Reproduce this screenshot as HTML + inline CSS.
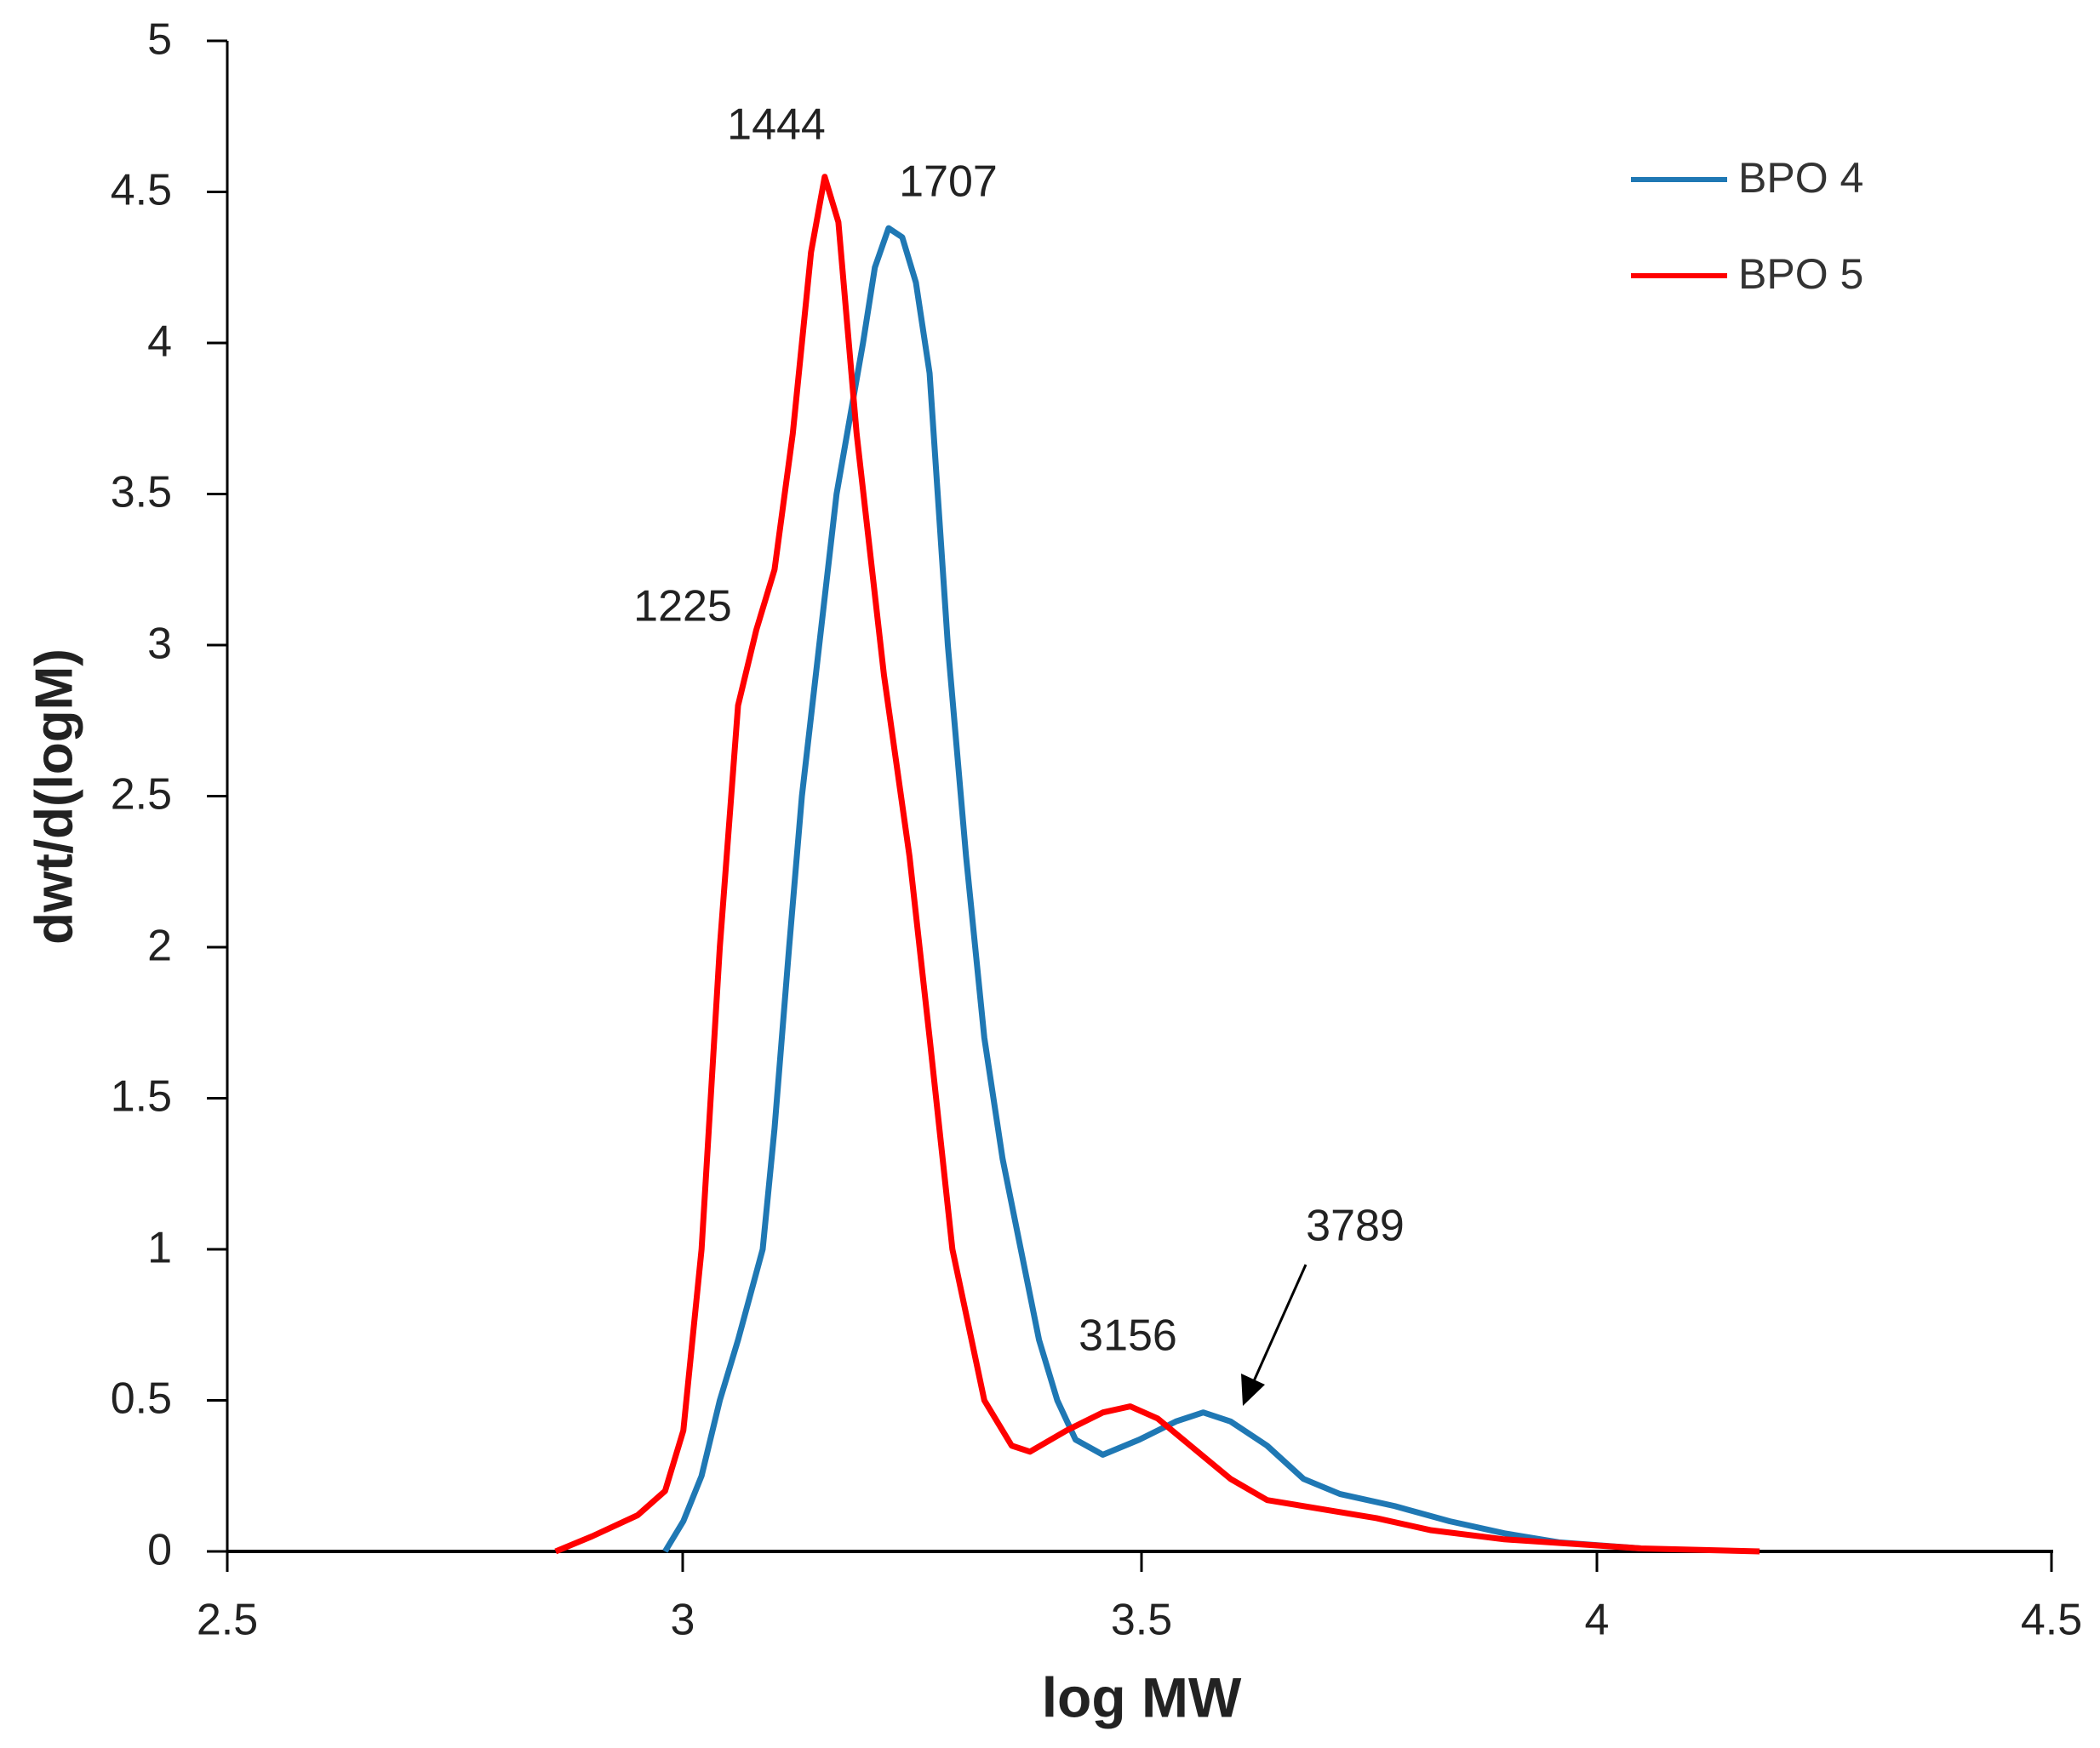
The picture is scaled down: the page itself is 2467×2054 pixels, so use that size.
<!DOCTYPE html>
<html><head><style>body{margin:0;background:#fff}svg{display:block}</style></head><body>
<svg width="2467" height="2054" viewBox="0 0 2467 2054" xmlns="http://www.w3.org/2000/svg" font-family="Liberation Sans, sans-serif">
<rect width="2467" height="2054" fill="#fff"/>
<g stroke="#000" stroke-width="3">
<line x1="267" y1="48" x2="267" y2="1823"/>
<line x1="267" y1="1823" x2="2412" y2="1823" stroke-width="4"/>
<line x1="243" y1="48" x2="267" y2="48"/><line x1="243" y1="225.5" x2="267" y2="225.5"/>
<line x1="243" y1="403" x2="267" y2="403"/><line x1="243" y1="580.5" x2="267" y2="580.5"/>
<line x1="243" y1="758" x2="267" y2="758"/><line x1="243" y1="935.5" x2="267" y2="935.5"/>
<line x1="243" y1="1113" x2="267" y2="1113"/><line x1="243" y1="1290.5" x2="267" y2="1290.5"/>
<line x1="243" y1="1468" x2="267" y2="1468"/><line x1="243" y1="1645.5" x2="267" y2="1645.5"/>
<line x1="243" y1="1823" x2="267" y2="1823"/>
<line x1="267" y1="1823" x2="267" y2="1847"/><line x1="802" y1="1823" x2="802" y2="1847"/>
<line x1="1341" y1="1823" x2="1341" y2="1847"/><line x1="1876" y1="1823" x2="1876" y2="1847"/>
<line x1="2410" y1="1823" x2="2410" y2="1847"/>
</g>
<g font-size="52" fill="#222" text-anchor="end" dominant-baseline="middle">
<text x="202" y="50">5</text><text x="202" y="227">4.5</text><text x="202" y="405">4</text>
<text x="202" y="582">3.5</text><text x="202" y="760">3</text><text x="202" y="937">2.5</text>
<text x="202" y="1115">2</text><text x="202" y="1292">1.5</text><text x="202" y="1470">1</text>
<text x="202" y="1647">0.5</text><text x="202" y="1825">0</text>
</g>
<g font-size="52" fill="#222" text-anchor="middle" dominant-baseline="middle">
<text x="267" y="1907">2.5</text><text x="802" y="1907">3</text><text x="1341" y="1907">3.5</text>
<text x="1876" y="1907">4</text><text x="2410" y="1907">4.5</text>
<text x="912" y="150">1444</text><text x="1114" y="217">1707</text><text x="802" y="716">1225</text>
<text x="1592" y="1444">3789</text><text x="1325" y="1573">3156</text>
</g>
<text x="1341" y="2000" font-size="66" font-weight="bold" text-anchor="middle" dominant-baseline="middle" fill="#222">log MW</text>
<text transform="translate(68,936) rotate(-90)" font-size="62" font-weight="bold" text-anchor="middle" dominant-baseline="middle" fill="#222">dwt/d(logM)</text>
<g transform="translate(267,1823) scale(1071.5,-355) translate(-2.5,0)" fill="none" stroke-linejoin="round">
<polyline vector-effect="non-scaling-stroke" stroke="#1f78b4" stroke-width="7" points="2.98,0 3.0,0.1 3.02,0.25 3.04,0.5 3.06,0.7 3.087,1.0 3.1,1.4 3.116,2.0 3.13,2.5 3.149,3.0 3.168,3.5 3.197,4.0 3.21,4.25 3.225,4.38 3.24,4.35 3.255,4.2 3.27,3.9 3.29,3.0 3.31,2.3 3.33,1.7 3.35,1.3 3.37,1.0 3.39,0.7 3.41,0.5 3.43,0.37 3.46,0.32 3.5,0.37 3.54,0.43 3.57,0.46 3.6,0.43 3.64,0.35 3.68,0.24 3.72,0.19 3.78,0.15 3.84,0.1 3.9,0.06 3.96,0.03 4.05,0.01"/>
<polyline vector-effect="non-scaling-stroke" stroke="#ff0000" stroke-width="7" points="2.86,0 2.9,0.05 2.95,0.12 2.98,0.2 3.0,0.4 3.02,1.0 3.04,2.0 3.06,2.8 3.08,3.05 3.1,3.25 3.12,3.7 3.14,4.3 3.155,4.55 3.17,4.4 3.19,3.7 3.22,2.9 3.248,2.3 3.27,1.7 3.295,1.0 3.33,0.5 3.36,0.35 3.38,0.33 3.42,0.4 3.46,0.46 3.49,0.48 3.52,0.44 3.56,0.34 3.6,0.24 3.64,0.17 3.7,0.14 3.76,0.11 3.82,0.07 3.9,0.04 4.0,0.02 4.05,0.01 4.18,0"/>
</g>
<line x1="1916" y1="211" x2="2029" y2="211" stroke="#1f78b4" stroke-width="6"/>
<line x1="1916" y1="324" x2="2029" y2="324" stroke="#ff0000" stroke-width="6"/>
<g font-size="50" fill="#333" dominant-baseline="middle">
<text x="2042" y="213">BPO 4</text><text x="2042" y="326">BPO 5</text>
</g>
<line x1="1534" y1="1486" x2="1472" y2="1625" stroke="#000" stroke-width="3"/>
<polygon points="1460,1652 1458,1614 1486,1627" fill="#000"/>
</svg>
</body></html>
